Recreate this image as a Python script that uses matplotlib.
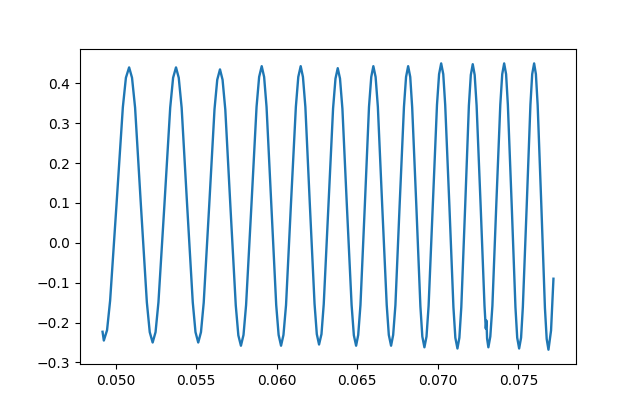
#!/usr/bin/env python3

import matplotlib
matplotlib.use('Agg')
import matplotlib.pyplot as plt

# signal samples (time, amplitude)
time = [
    0.04919,
    0.04927, 0.04947, 0.04966, 0.05006, 0.05045, 0.05064,
    0.05084, 0.05102, 0.05121, 0.05157, 0.05194, 0.05212,
    0.05230, 0.05248, 0.05266, 0.05303, 0.05339, 0.05357,
    0.05375, 0.05392, 0.05410, 0.05444, 0.05479, 0.05496,
    0.05513, 0.05530, 0.05547, 0.05581, 0.05614, 0.05631,
    0.05648, 0.05664, 0.05681, 0.05713, 0.05746, 0.05762,
    0.05778, 0.05794, 0.05810, 0.05843, 0.05875, 0.05891,
    0.05907, 0.05922, 0.05937, 0.05967, 0.05997, 0.06012,
    0.06027, 0.06042, 0.06058, 0.06088, 0.06119, 0.06134,
    0.06149, 0.06163, 0.06178, 0.06206, 0.06235, 0.06249,
    0.06263, 0.06278, 0.06292, 0.06321, 0.06350, 0.06365,
    0.06379, 0.06393, 0.06408, 0.06436, 0.06465, 0.06479,
    0.06493, 0.06506, 0.06520, 0.06547, 0.06573, 0.06587,
    0.06600, 0.06614, 0.06628, 0.06655, 0.06683, 0.06696,
    0.06710, 0.06723, 0.06737, 0.06763, 0.06790, 0.06803,
    0.06816, 0.06829, 0.06841, 0.06867, 0.06892, 0.06904,
    0.06917, 0.06930, 0.06943, 0.06969, 0.06995, 0.07008,
    0.07021, 0.07034, 0.07046, 0.07072, 0.07097, 0.07109,
    0.07122, 0.07134, 0.07146, 0.07170, 0.07193, 0.07205,
    0.07217, 0.07229, 0.07241, 0.07266, 0.07290, 0.07298, 0.07302, 0.07306,
    0.07314, 0.07326, 0.07339, 0.07363, 0.07388, 0.07400,
    0.07412, 0.07424, 0.07435, 0.07459, 0.07482, 0.07493,
    0.07505, 0.07517, 0.07528, 0.07552, 0.07575, 0.07586,
    0.07598, 0.07609, 0.07620, 0.07643, 0.07665, 0.07676,
    0.07687, 0.07703, 0.07718,
]
amplitude = [
    -0.223,
    -0.245, -0.219, -0.145, 0.098, 0.340, 0.414,
    0.440, 0.414, 0.339, 0.095, -0.149, -0.224,
    -0.250, -0.224, -0.149, 0.095, 0.339, 0.414,
    0.440, 0.414, 0.339, 0.095, -0.149, -0.224,
    -0.250, -0.224, -0.150, 0.093, 0.335, 0.409,
    0.435, 0.409, 0.334, 0.089, -0.157, -0.232,
    -0.258, -0.231, -0.156, 0.093, 0.341, 0.416,
    0.443, 0.416, 0.341, 0.093, -0.156, -0.231,
    -0.258, -0.231, -0.156, 0.093, 0.341, 0.416,
    0.443, 0.416, 0.341, 0.094, -0.153, -0.229,
    -0.255, -0.229, -0.154, 0.092, 0.337, 0.412,
    0.438, 0.412, 0.336, 0.090, -0.156, -0.232,
    -0.258, -0.231, -0.156, 0.093, 0.341, 0.416,
    0.443, 0.416, 0.341, 0.093, -0.156, -0.231,
    -0.258, -0.231, -0.156, 0.093, 0.341, 0.416,
    0.443, 0.416, 0.340, 0.091, -0.159, -0.235,
    -0.262, -0.235, -0.158, 0.094, 0.346, 0.423,
    0.450, 0.423, 0.346, 0.093, -0.161, -0.238,
    -0.265, -0.238, -0.161, 0.092, 0.344, 0.421,
    0.448, 0.421, 0.344, 0.093, -0.158, -0.215, -0.195, -0.240,
    -0.262, -0.235, -0.158, 0.094, 0.346, 0.423,
    0.450, 0.423, 0.346, 0.093, -0.161, -0.238,
    -0.265, -0.238, -0.161, 0.093, 0.346, 0.423,
    0.450, 0.423, 0.345, 0.091, -0.163, -0.241,
    -0.268, -0.220, -0.090,
]


def plot_signal(time, amplitude):
    fig, ax = plt.subplots(figsize=(6.4, 4.09), dpi=100)
    ax.plot(time, amplitude, linewidth=1.7)
    fig.savefig('out.png')


if __name__ == '__main__':
    plot_signal(time, amplitude)
